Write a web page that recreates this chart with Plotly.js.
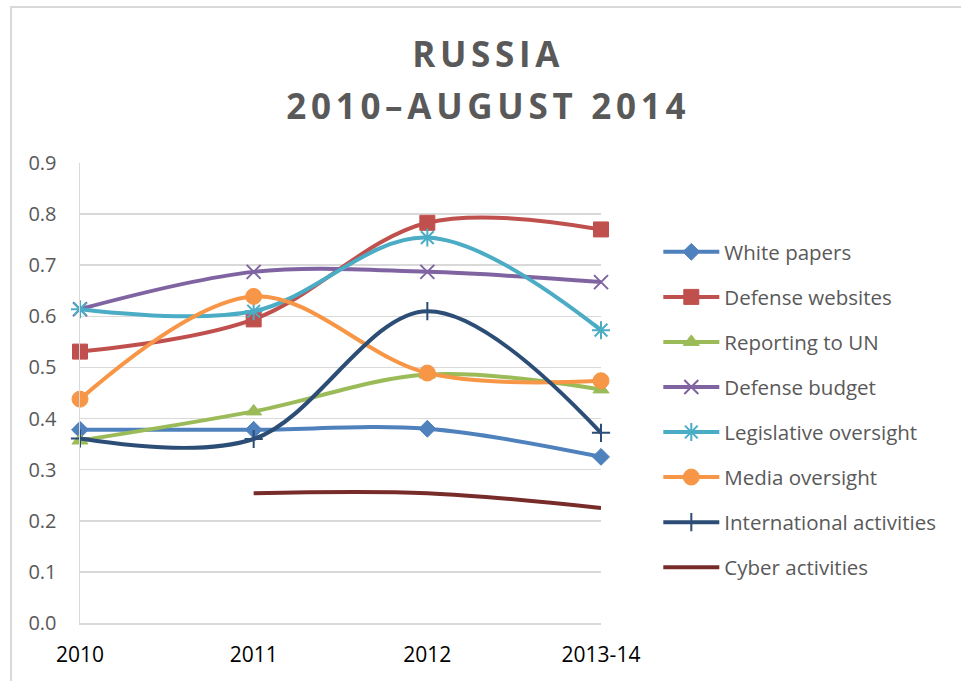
<!DOCTYPE html>
<html>
<head>
<meta charset="utf-8">
<script src="https://cdn.plot.ly/plotly-3.0.1.min.js"></script>
<style>
  html, body { margin: 0; padding: 0; background: #ffffff; }
  #chart { width: 961px; height: 681px; }
  #frame { position: absolute; left: 10px; top: 6px; width: 960px; height: 680px;
           border-top: 2px solid #d9d9d9; border-left: 2px solid #d9d9d9; pointer-events: none; }
  .gtitle { letter-spacing: 4.7px; }
</style>
</head>
<body>
<div id="chart"></div>
<div id="frame"></div>
<script>
// ---- data ----
const categories = ["2010", "2011", "2012", "2013-14"];
const seriesNames = ["White papers", "Defense websites", "Reporting to UN", "Defense budget",
                     "Legislative oversight", "Media oversight", "International activities", "Cyber activities"];
const whitePapers = [0.378, 0.378, 0.380, 0.325];
const defenseWebsites = [0.531, 0.594, 0.783, 0.770];
const reportingToUN = [0.357, 0.414, 0.486, 0.457];
const defenseBudget = [0.614, 0.687, 0.687, 0.667];
const legislativeOversight = [0.614, 0.610, 0.754, 0.573];
const mediaOversight = [0.438, 0.639, 0.489, 0.474];
const internationalActivities = [0.361, 0.360, 0.610, 0.372];
const cyberActivities = [null, 0.254, 0.254, 0.225];
const yTicks = [0, 0.1, 0.2, 0.3, 0.4, 0.5, 0.6, 0.7, 0.8, 0.9];
const yTickLabels = ["0.0", "0.1", "0.2", "0.3", "0.4", "0.5", "0.6", "0.7", "0.8", "0.9"];

// ---- styles ----
const allValues = [whitePapers, defenseWebsites, reportingToUN, defenseBudget,
                   legislativeOversight, mediaOversight, internationalActivities, cyberActivities];
const colors = ["#4F81BD", "#C0504D", "#9BBB59", "#8064A2", "#4BACC6", "#F79646", "#2C4D75", "#772C2A"];
const symbols = ["diamond", "square", "triangle-up", "x-thin", "asterisk-open", "circle", "cross-thin", null];
const sizes = [13, 15, 14, 14, 15, 16, 13, 0];
const markerLineWidths = [1, 1, 1, 2, 2, 1, 2, 0];

const traces = allValues.map((vals, i) => {
  const t = {
    type: "scatter",
    x: categories,
    y: vals,
    name: seriesNames[i],
    legendgroup: "g" + i,
    mode: symbols[i] ? "lines+markers" : "lines",
    line: { color: colors[i], width: 4, shape: "spline", smoothing: 1 },
    cliponaxis: false,
    connectgaps: false,
    hoverinfo: "x+y+name"
  };
  if (symbols[i]) {
    t.marker = { symbol: symbols[i], size: sizes[i], color: colors[i],
                 line: { color: colors[i], width: markerLineWidths[i] } };
  }
  return t;
});

const layout = {
  width: 961,
  height: 681,
  paper_bgcolor: "#ffffff",
  plot_bgcolor: "#ffffff",
  font: { family: "Open Sans, sans-serif", color: "#595959" },
  margin: { l: 80, r: 360, t: 163, b: 58 },
  title: {
    text: "RUSSIA<br>2010–AUGUST 2014",
    font: { family: "Open Sans, sans-serif", size: 35, weight: "bold", color: "#595959" },
    x: 0.508, xanchor: "center",
    y: 0.901, yanchor: "top",
    xref: "container", yref: "container"
  },
  xaxis: {
    type: "category",
    range: [0, 3],
    showgrid: false,
    zeroline: false,
    showline: true,
    linecolor: "#d9d9d9",
    linewidth: 1.5,
    ticks: "",
    tickfont: { family: "Open Sans, sans-serif", size: 21, color: "#000000" },
    ticklabelstandoff: 12,
    fixedrange: true
  },
  yaxis: {
    range: [0, 0.9],
    tickvals: yTicks,
    ticktext: yTickLabels,
    showgrid: true,
    gridcolor: "#d9d9d9",
    gridwidth: 1.5,
    zeroline: false,
    showline: true,
    linecolor: "#d9d9d9",
    linewidth: 1.5,
    ticks: "",
    tickfont: { family: "Open Sans, sans-serif", size: 20, color: "#595959" },
    ticklabelstandoff: 18,
    fixedrange: true
  },
  legend: {
    x: 1.11, xanchor: "left",
    y: 0.85, yanchor: "top",
    font: { family: "Open Sans, sans-serif", size: 20.5, color: "#595959" },
    itemwidth: 56,
    tracegroupgap: 15.4,
    traceorder: "grouped",
    bgcolor: "rgba(0,0,0,0)"
  },
  showlegend: true
};

Plotly.newPlot("chart", traces, layout, { displayModeBar: false, staticPlot: true }).then(() => {
  // widen the gap between the two title lines to match the reference
  const lines = document.querySelectorAll(".gtitle tspan.line");
  if (lines.length > 1) lines[1].setAttribute("dy", "52px");
});
</script>
</body>
</html>
